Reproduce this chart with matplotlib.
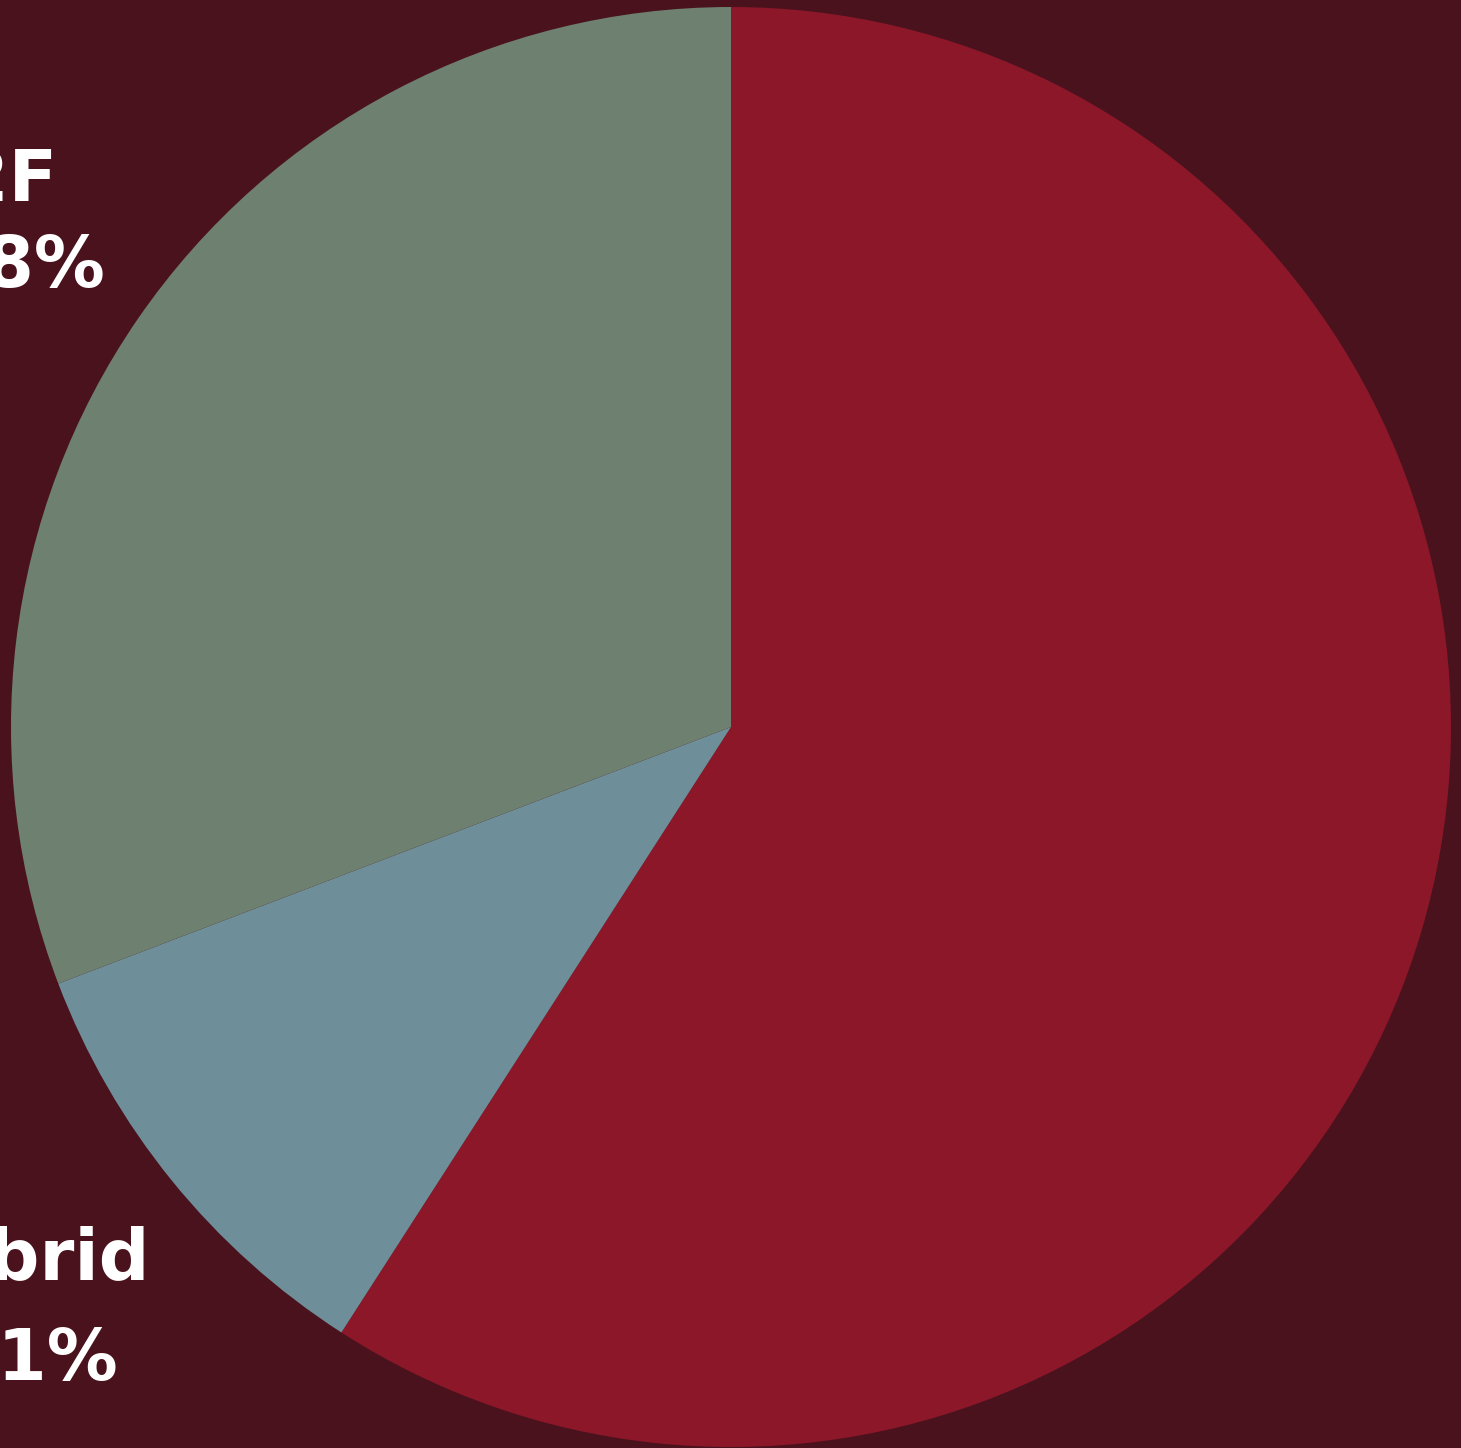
import matplotlib.pyplot as plt

# slice data (clockwise from 12 o'clock)
labels = ["Remote", "Hybrid", "F2F"]
shares = [59.1, 10.1, 30.8]
colors = ["#8B1729", "#6E8F99", "#6E8070"]
bg = "#4A121D"

W, H = 1461, 1448
fig = plt.figure(figsize=(W / 100, H / 100), dpi=100, facecolor=bg)
ax = fig.add_axes([0, 0, 1, 1])
ax.set_facecolor(bg)

ax.pie(shares, colors=colors, startangle=90, counterclock=False,
       radius=1, wedgeprops=dict(linewidth=0))

# center at pixel (731, 727), radius 720 px
cx, cy, r = 731, 727, 720
ax.set_xlim(-cx / r, (W - cx) / r)
ax.set_ylim(-(H - cy) / r, cy / r)
ax.set_aspect("auto")
ax.axis("off")

# labels: partly cut off at the left edge, right ends at these pixels
font = dict(color="white", fontsize=51, fontweight="bold",
            family=["DejaVu Sans"], ha="right", va="baseline")
label_pos = {
    "F2F": ((58, 201), (105, 287)),
    "Hybrid": ((150, 1280), (118, 1380)),
}
for name, val in zip(labels, shares):
    if name not in label_pos:
        continue
    (x1, y1), (x2, y2) = label_pos[name]
    fig.text(x1 / W, 1 - y1 / H, name, **font)
    fig.text(x2 / W, 1 - y2 / H, f"{val:.1f}%", **font)

plt.savefig("out.png", dpi=100, facecolor=bg)
